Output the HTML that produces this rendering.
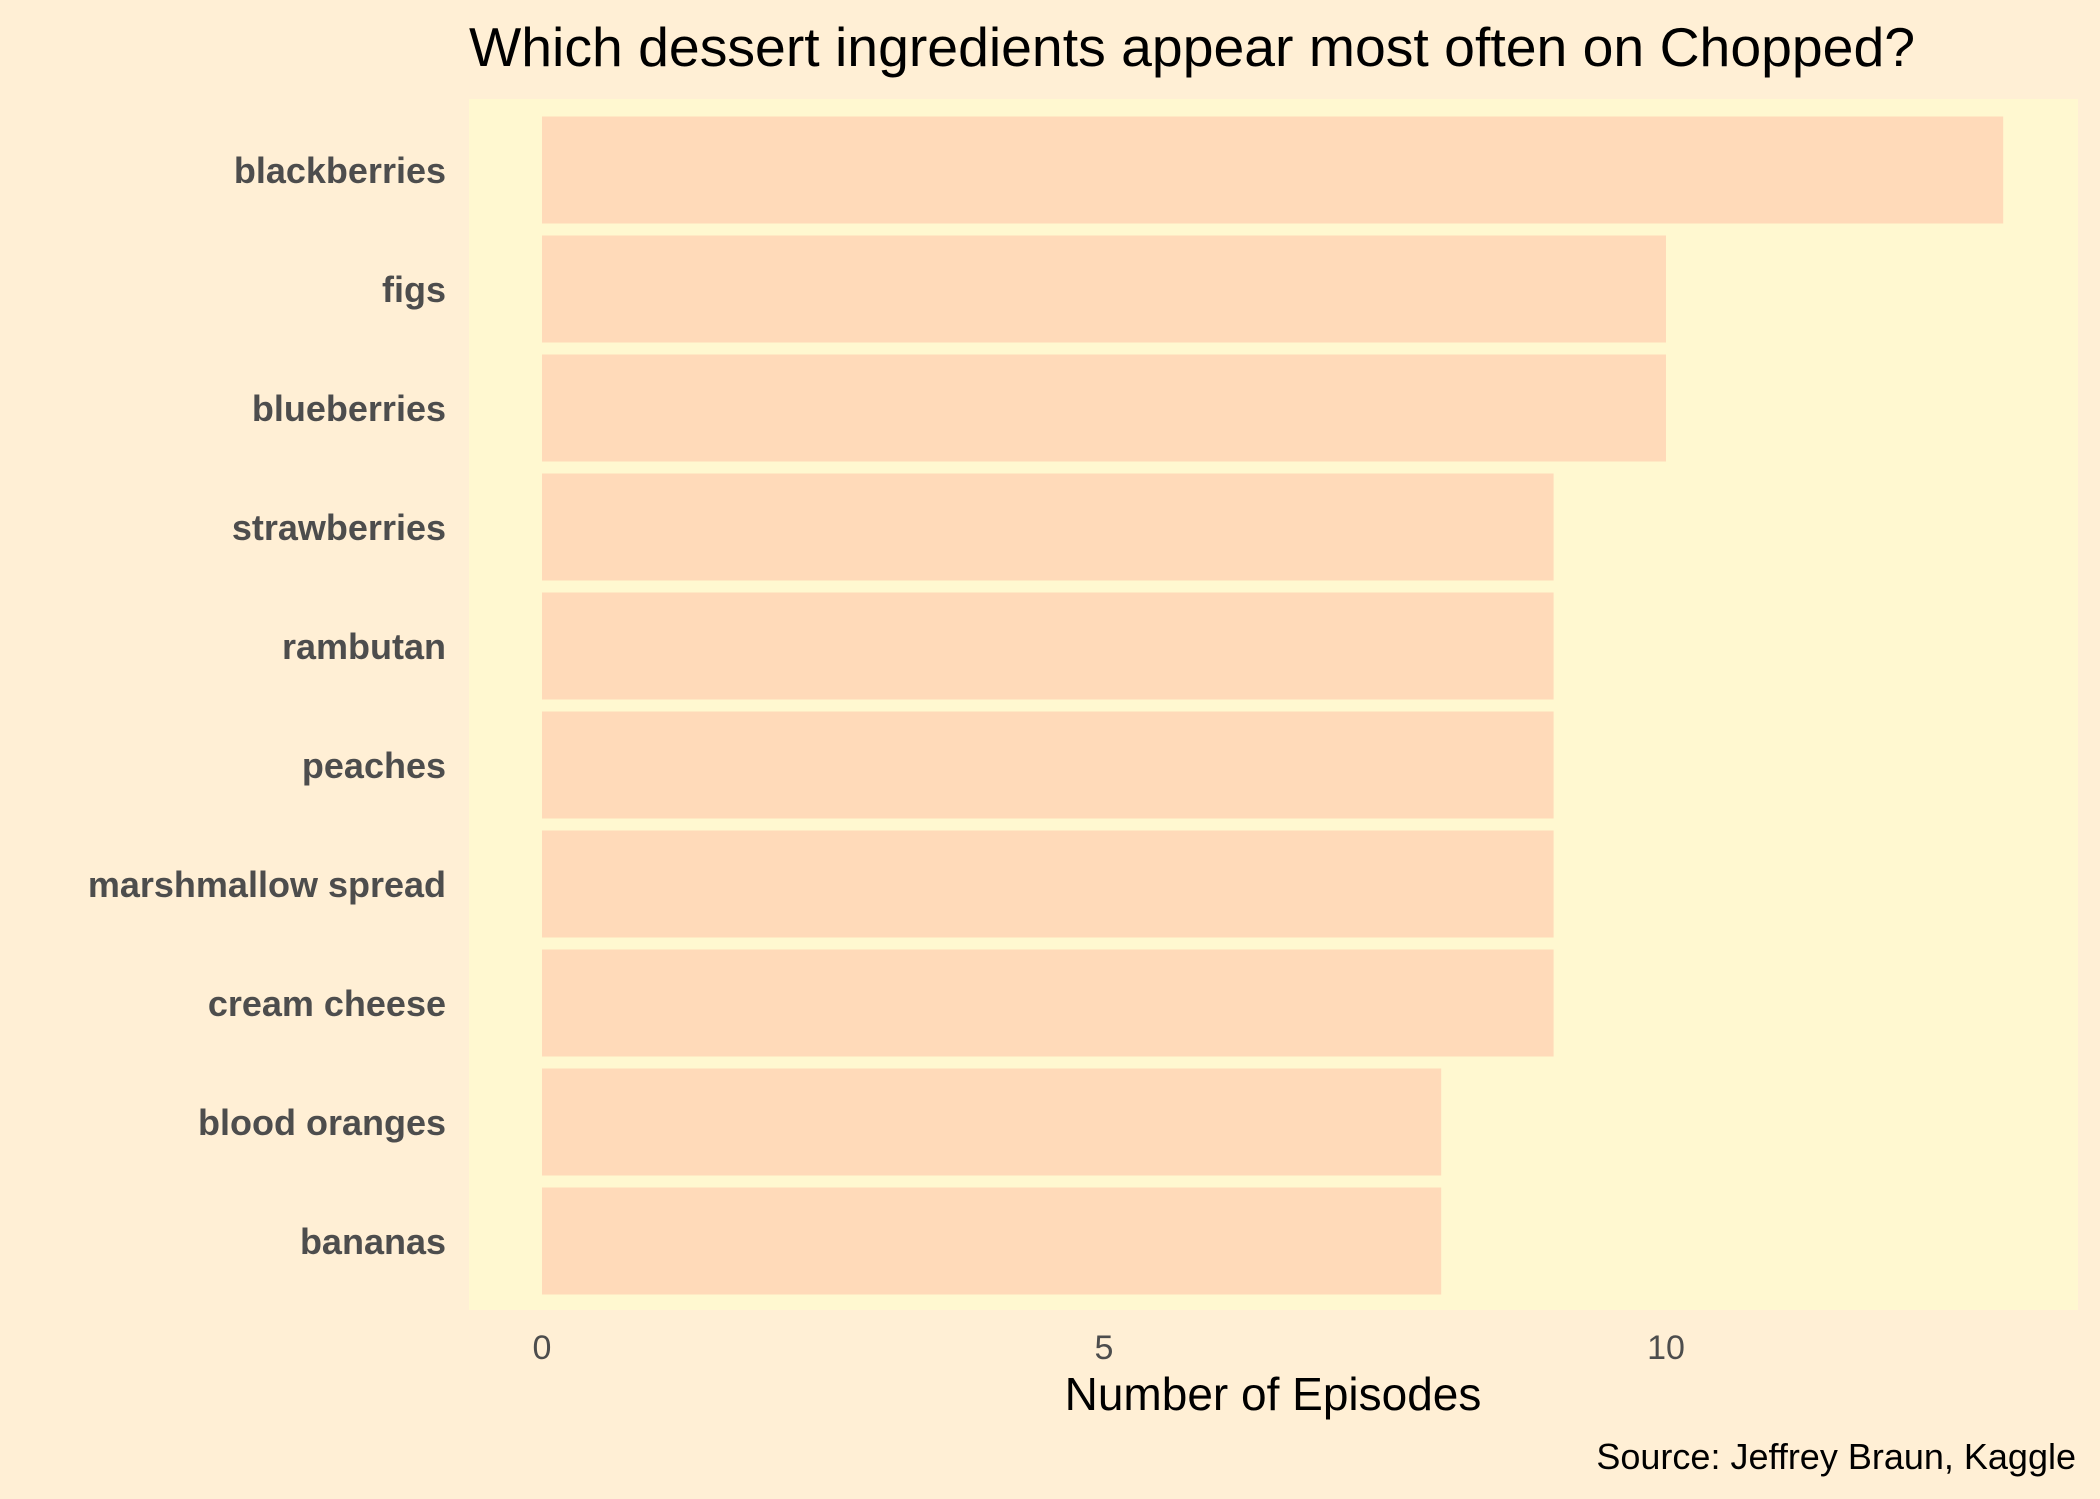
<!DOCTYPE html>
<html><head><meta charset="utf-8"><style>
html,body{margin:0;padding:0;background:#FFEFD5;}
svg{display:block;font-family:"Liberation Sans",Arial,sans-serif;}
</style></head><body>
<svg id="chart" width="2100" height="1499" viewBox="0 0 2100 1499" xmlns="http://www.w3.org/2000/svg">
<rect x="0" y="0" width="2100" height="1499" fill="#FFEFD5"/>
<rect x="469" y="99" width="1609" height="1211" fill="#FFF8D0"/>
<text x="469" y="66" font-size="55" fill="#000" textLength="1446" lengthAdjust="spacingAndGlyphs">Which dessert ingredients appear most often on Chopped?</text>
<g id="bars"></g>
<g id="ylabels"></g>
<g id="xticks"></g>
<text x="1273" y="1410" font-size="46" fill="#000" text-anchor="middle">Number of Episodes</text>
<text x="2076" y="1469" font-size="36" fill="#000" text-anchor="end">Source: Jeffrey Braun, Kaggle</text>
</svg>
<script>
const categories = ["blackberries","figs","blueberries","strawberries","rambutan","peaches","marshmallow spread","cream cheese","blood oranges","bananas"];
const episodes = [13,10,10,9,9,9,9,9,8,8];
const tickValues = [0,5,10];
const tickLabels = ["0","5","10"];

const NS = "http://www.w3.org/2000/svg";
const x0 = 542, unit = 112.4;
function xScale(v){ return x0 + v*unit; }
const bandTop = 110.5, band = 119, barH = 107;
function yCenter(i){ return bandTop + band*i + band/2; }

const bars = document.getElementById('bars');
const ylabels = document.getElementById('ylabels');
categories.forEach((c,i)=>{
  const r = document.createElementNS(NS,'rect');
  r.setAttribute('x', xScale(0));
  r.setAttribute('y', yCenter(i)-barH/2);
  r.setAttribute('width', xScale(episodes[i])-xScale(0));
  r.setAttribute('height', barH);
  r.setAttribute('fill', '#FFDAB9');
  
  
  bars.appendChild(r);
  const t = document.createElementNS(NS,'text');
  t.setAttribute('x', 446);
  t.setAttribute('y', yCenter(i)+13);
  t.setAttribute('text-anchor','end');
  t.setAttribute('font-size','36');
  t.setAttribute('font-weight','bold');
  t.setAttribute('fill','#4D4D4D');
  t.textContent = c;
  
  
  ylabels.appendChild(t);
});
const xticks = document.getElementById('xticks');
tickValues.forEach((v,i)=>{
  const t = document.createElementNS(NS,'text');
  t.setAttribute('x', xScale(v));
  t.setAttribute('y', 1359);
  t.setAttribute('text-anchor','middle');
  t.setAttribute('font-size','34');
  t.setAttribute('fill','#4D4D4D');
  t.textContent = tickLabels[i];
  
  
  xticks.appendChild(t);
});
</script>
</body></html>
